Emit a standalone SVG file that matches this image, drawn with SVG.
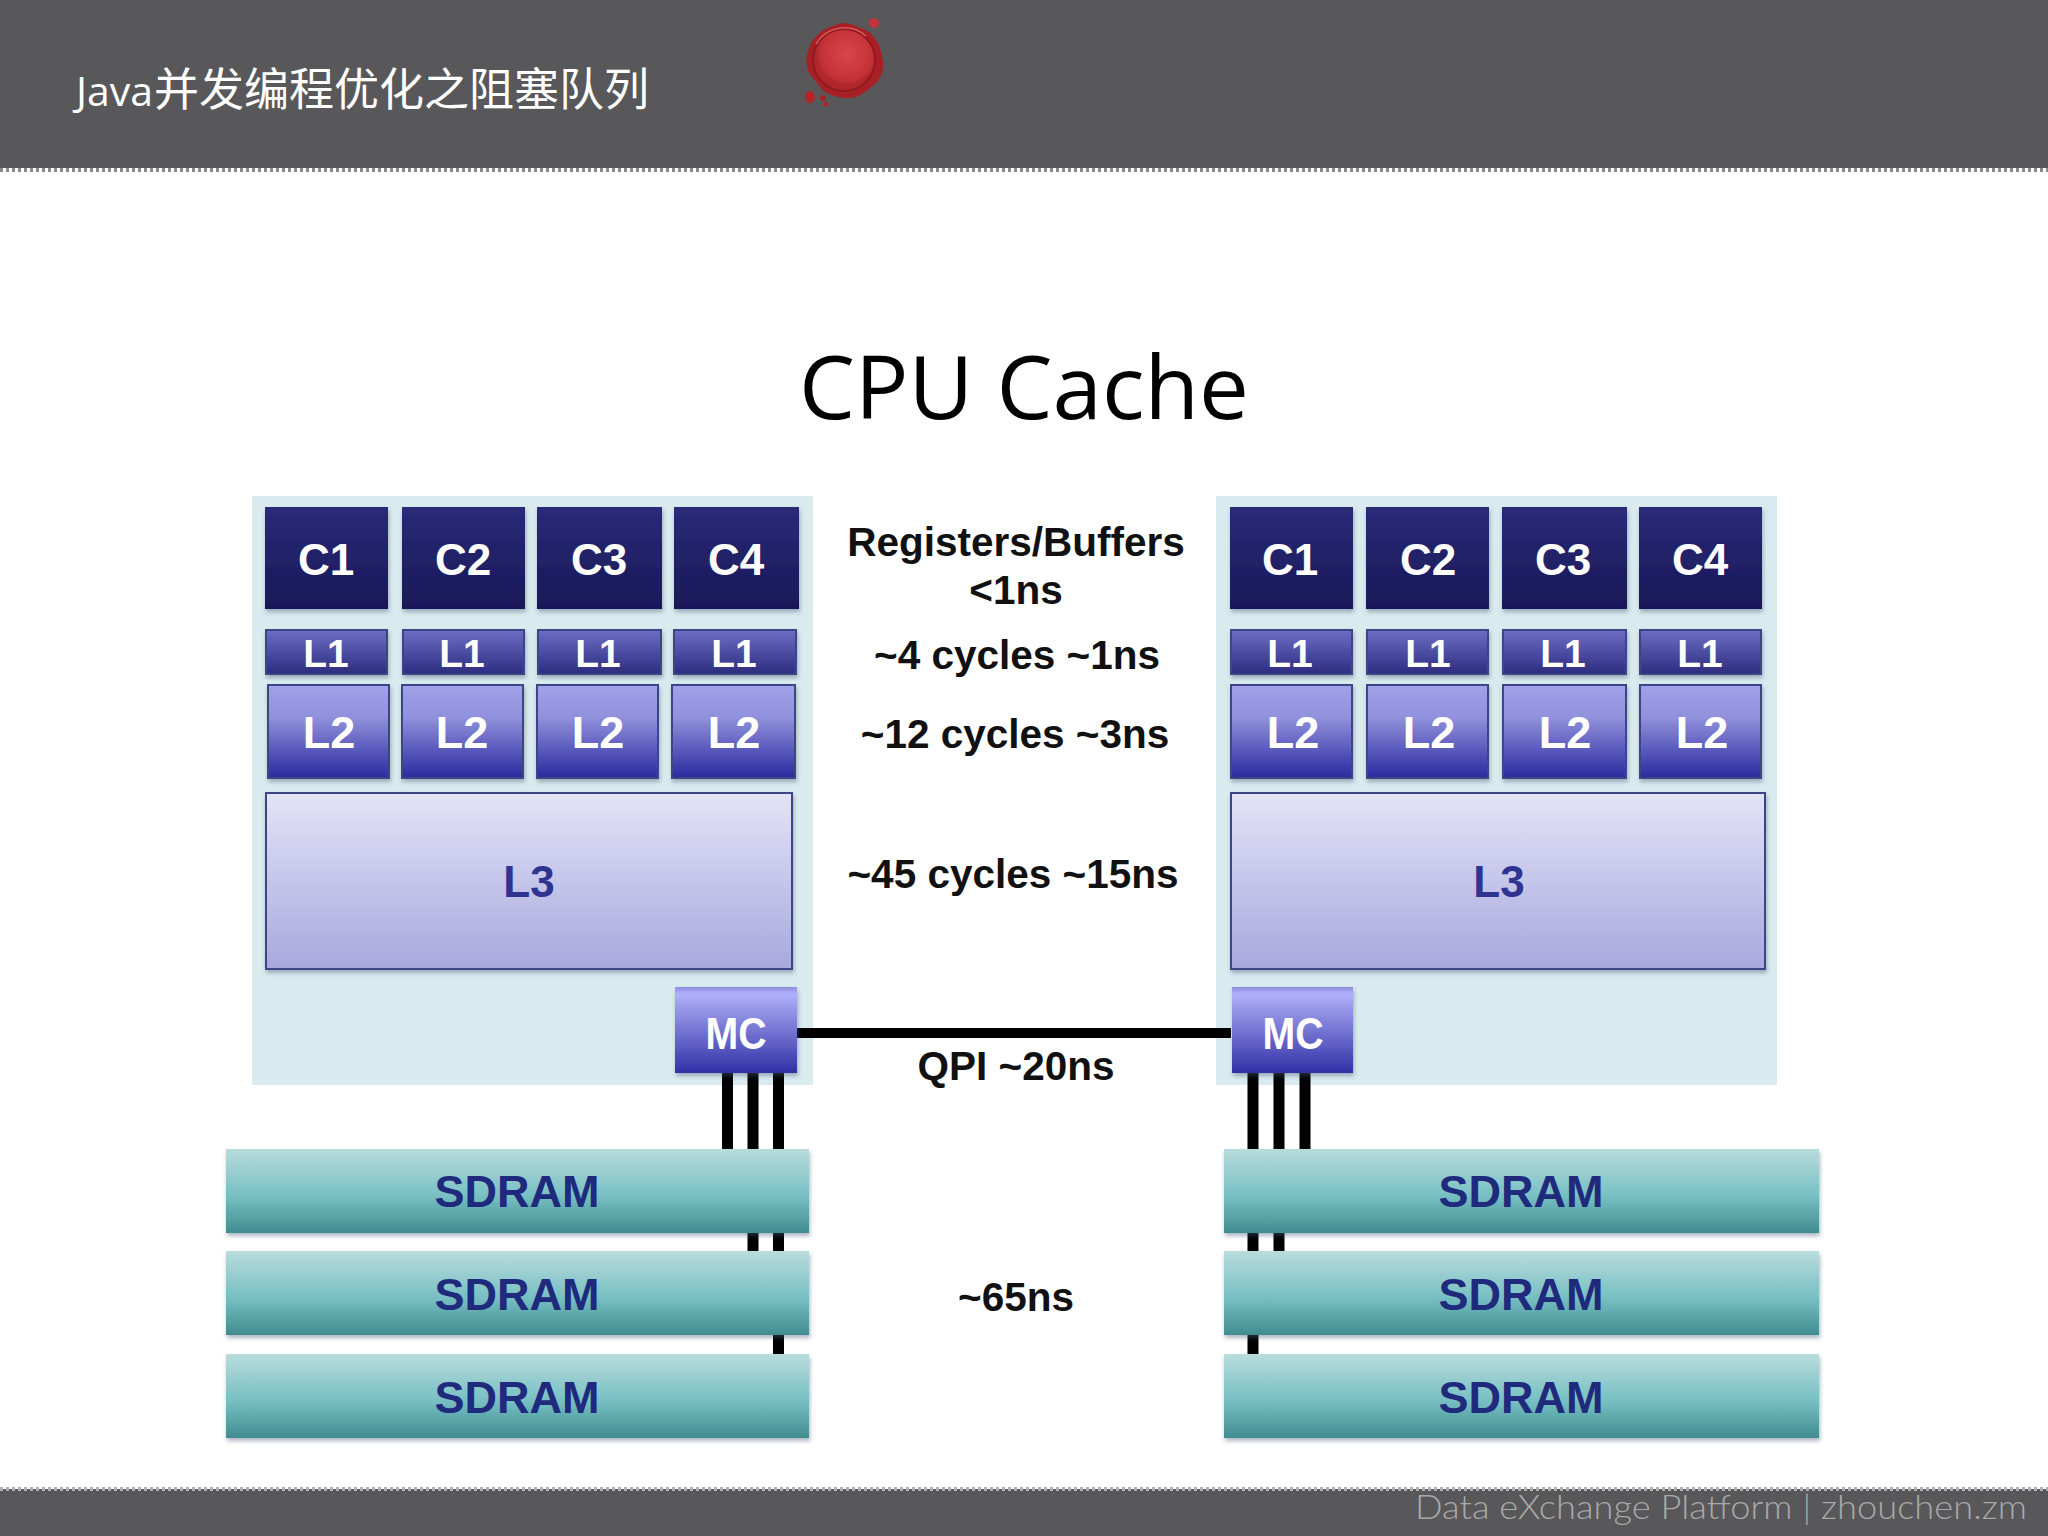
<svg xmlns="http://www.w3.org/2000/svg" width="2048" height="1536" viewBox="0 0 2048 1536">
<style>
text{font-family:"Liberation Sans",Arial,sans-serif;font-weight:700;text-anchor:middle}
.w{fill:#fff}.c{font-size:44px}.l1{font-size:39px}.l2{font-size:45px}.mc{font-size:45px}
.l3{font-size:44px;fill:#2e3490}.sd{font-size:45px;fill:#1f2a7c}.m{font-size:40.500px;fill:#111}
.bar{fill:#58585a}.panel{fill:#d9ebef}.b{stroke:#3c4585;stroke-width:2;filter:url(#sh)}.n{filter:url(#sh)}
.cn{stroke:#000;fill:none}
</style>
<defs>
<linearGradient id="gc" x1="0" y1="0" x2="0" y2="1"><stop offset="0" stop-color="#2a2a78"/><stop offset="1" stop-color="#191858"/></linearGradient>
<linearGradient id="g1" x1="0" y1="0" x2="0" y2="1"><stop offset="0" stop-color="#6e6ec4"/><stop offset="1" stop-color="#2c2c80"/></linearGradient>
<linearGradient id="g2" x1="0" y1="0" x2="0" y2="1"><stop offset="0" stop-color="#a2a2ea"/><stop offset=".35" stop-color="#9090dc"/><stop offset="1" stop-color="#2a2aa0"/></linearGradient>
<linearGradient id="g3" x1="0" y1="0" x2="0" y2="1"><stop offset="0" stop-color="#e3e3f7"/><stop offset="1" stop-color="#a8a8de"/></linearGradient>
<linearGradient id="gm" x1="0" y1="0" x2="0" y2="1"><stop offset="0" stop-color="#8c8ce0"/><stop offset=".08" stop-color="#b0b0fa"/><stop offset="1" stop-color="#3030a6"/></linearGradient>
<linearGradient id="gs" x1="0" y1="0" x2="0" y2="1"><stop offset="0" stop-color="#b9dcdc"/><stop offset=".55" stop-color="#78c0c4"/><stop offset="1" stop-color="#408c90"/></linearGradient>
<radialGradient id="gr" cx=".55" cy=".4"><stop offset="0" stop-color="#d8474c"/><stop offset=".85" stop-color="#c43238"/><stop offset="1" stop-color="#b0262c"/></radialGradient>
<filter id="sh" x="-10%" y="-10%" width="120%" height="125%"><feDropShadow dx="1" dy="3" stdDeviation="2" flood-color="#4a5a78" flood-opacity=".45"/></filter>
</defs>
<rect width="2048" height="1536" fill="#fff"/>
<g id="header">
<rect class="bar" width="2048" height="168"/>
<path d="M0 170H2048" stroke="#8a8a8a" stroke-width="4" stroke-dasharray="3 3"/>
<text x="76" y="106" style="text-anchor:start;font-family:'Open Sans',sans-serif;font-weight:400;font-size:40px" fill="#fff" textLength="77" lengthAdjust="spacingAndGlyphs">Java</text>
<text x="154" y="106" style="text-anchor:start;font-family:'Noto Sans CJK SC',sans-serif;font-weight:400;font-size:45px" fill="#fff">并发编程优化之阻塞队列</text>
</g>
<g id="seal">
<path d="M844 23C852 23 857 27 863 29C870 31 874 37 878 43C881 48 881 54 883 60C884 67 882 73 880 78C877 84 872 86 868 90C862 94 857 98 849 98C842 99 835 96 829 94C822 92 820 86 816 82C812 77 807 72 807 65C805 58 808 52 810 46C812 39 817 36 822 31C829 27 836 24 844 23Z" fill="#a91f26"/>
<circle cx="844" cy="60" r="31" fill="url(#gr)" stroke="#8f1a20" stroke-width="2"/>
<path d="M816 44A33 33 0 0 1 866 36" fill="none" stroke="#d9585c" stroke-width="1.500"/>
<circle cx="874" cy="23" r="5" fill="#c4323a"/>
<ellipse cx="810" cy="97" rx="5" ry="6" fill="#b3242a"/>
<circle cx="823" cy="98" r="3" fill="#a91f26"/>
<circle cx="826" cy="104" r="2.500" fill="#b3242a"/>
</g>
<text id="title" x="1024" y="419" style="font-family:'Open Sans',sans-serif;font-weight:400;font-size:88px" fill="#000" textLength="450" lengthAdjust="spacingAndGlyphs">CPU Cache</text>
<g id="panels">
<rect class="panel" x="252" y="496" width="561" height="589"/>
<rect class="panel" x="1216" y="496" width="561" height="589"/>
</g>
<g id="connectors" class="cn">
<path stroke-width="10" d="M797 1033H1231"/>
<path stroke-width="11" d="M727.500 1073V1149M753 1073V1251M778.500 1073V1354M1253 1073V1354M1279 1073V1251M1305 1073V1149"/>
</g>
<g id="cpu-left">
<g id="l-c1"><rect class="n" fill="url(#gc)" x="265" y="507" width="123" height="102"/><text class="w c" x="326" y="575">C1</text></g>
<g id="l-c2"><rect class="n" fill="url(#gc)" x="402" y="507" width="123" height="102"/><text class="w c" x="463" y="575">C2</text></g>
<g id="l-c3"><rect class="n" fill="url(#gc)" x="537" y="507" width="125" height="102"/><text class="w c" x="599" y="575">C3</text></g>
<g id="l-c4"><rect class="n" fill="url(#gc)" x="674" y="507" width="125" height="102"/><text class="w c" x="736" y="575">C4</text></g>
<g id="l-l1a"><rect class="b" fill="url(#g1)" x="266" y="630" width="121" height="44"/><text class="w l1" x="326" y="667">L1</text></g>
<g id="l-l1b"><rect class="b" fill="url(#g1)" x="403" y="630" width="121" height="44"/><text class="w l1" x="462" y="667">L1</text></g>
<g id="l-l1c"><rect class="b" fill="url(#g1)" x="538" y="630" width="123" height="44"/><text class="w l1" x="598" y="667">L1</text></g>
<g id="l-l1d"><rect class="b" fill="url(#g1)" x="674" y="630" width="122" height="44"/><text class="w l1" x="734" y="667">L1</text></g>
<g id="l-l2a"><rect class="b" fill="url(#g2)" x="268" y="685" width="121" height="93"/><text class="w l2" x="329" y="748">L2</text></g>
<g id="l-l2b"><rect class="b" fill="url(#g2)" x="402" y="685" width="121" height="93"/><text class="w l2" x="462" y="748">L2</text></g>
<g id="l-l2c"><rect class="b" fill="url(#g2)" x="537" y="685" width="121" height="93"/><text class="w l2" x="598" y="748">L2</text></g>
<g id="l-l2d"><rect class="b" fill="url(#g2)" x="672" y="685" width="123" height="93"/><text class="w l2" x="734" y="748">L2</text></g>
<g id="l-l3"><rect class="b" fill="url(#g3)" x="266" y="793" width="526" height="176"/><text class="l3" x="529" y="897">L3</text></g>
<g id="l-mc"><rect class="n" fill="url(#gm)" x="675" y="987" width="122" height="86"/><text class="w mc" x="736" y="1049" textLength="61" lengthAdjust="spacingAndGlyphs">MC</text></g>
</g>
<g id="cpu-right">
<g id="r-c1"><rect class="n" fill="url(#gc)" x="1230" y="507" width="123" height="102"/><text class="w c" x="1290" y="575">C1</text></g>
<g id="r-c2"><rect class="n" fill="url(#gc)" x="1366" y="507" width="123" height="102"/><text class="w c" x="1428" y="575">C2</text></g>
<g id="r-c3"><rect class="n" fill="url(#gc)" x="1502" y="507" width="125" height="102"/><text class="w c" x="1563" y="575">C3</text></g>
<g id="r-c4"><rect class="n" fill="url(#gc)" x="1639" y="507" width="123" height="102"/><text class="w c" x="1700" y="575">C4</text></g>
<g id="r-l1a"><rect class="b" fill="url(#g1)" x="1231" y="630" width="121" height="44"/><text class="w l1" x="1290" y="667">L1</text></g>
<g id="r-l1b"><rect class="b" fill="url(#g1)" x="1367" y="630" width="121" height="44"/><text class="w l1" x="1428" y="667">L1</text></g>
<g id="r-l1c"><rect class="b" fill="url(#g1)" x="1503" y="630" width="123" height="44"/><text class="w l1" x="1563" y="667">L1</text></g>
<g id="r-l1d"><rect class="b" fill="url(#g1)" x="1640" y="630" width="121" height="44"/><text class="w l1" x="1700" y="667">L1</text></g>
<g id="r-l2a"><rect class="b" fill="url(#g2)" x="1231" y="685" width="121" height="93"/><text class="w l2" x="1293" y="748">L2</text></g>
<g id="r-l2b"><rect class="b" fill="url(#g2)" x="1367" y="685" width="121" height="93"/><text class="w l2" x="1429" y="748">L2</text></g>
<g id="r-l2c"><rect class="b" fill="url(#g2)" x="1503" y="685" width="123" height="93"/><text class="w l2" x="1565" y="748">L2</text></g>
<g id="r-l2d"><rect class="b" fill="url(#g2)" x="1640" y="685" width="121" height="93"/><text class="w l2" x="1702" y="748">L2</text></g>
<g id="r-l3"><rect class="b" fill="url(#g3)" x="1231" y="793" width="534" height="176"/><text class="l3" x="1499" y="897">L3</text></g>
<g id="r-mc"><rect class="n" fill="url(#gm)" x="1232" y="987" width="121" height="86"/><text class="w mc" x="1293" y="1049" textLength="61" lengthAdjust="spacingAndGlyphs">MC</text></g>
</g>
<g id="sdram-left">
<g id="l-sd1"><rect class="n" fill="url(#gs)" x="226" y="1149" width="583" height="84"/><text class="sd" x="517" y="1207">SDRAM</text></g>
<g id="l-sd2"><rect class="n" fill="url(#gs)" x="226" y="1251" width="583" height="84"/><text class="sd" x="517" y="1310">SDRAM</text></g>
<g id="l-sd3"><rect class="n" fill="url(#gs)" x="226" y="1354" width="583" height="84"/><text class="sd" x="517" y="1413">SDRAM</text></g>
</g>
<g id="sdram-right">
<g id="r-sd1"><rect class="n" fill="url(#gs)" x="1224" y="1149" width="595" height="84"/><text class="sd" x="1521" y="1207">SDRAM</text></g>
<g id="r-sd2"><rect class="n" fill="url(#gs)" x="1224" y="1251" width="595" height="84"/><text class="sd" x="1521" y="1310">SDRAM</text></g>
<g id="r-sd3"><rect class="n" fill="url(#gs)" x="1224" y="1354" width="595" height="84"/><text class="sd" x="1521" y="1413">SDRAM</text></g>
</g>
<g id="latencies">
<text class="m" x="1016" y="556">Registers/Buffers</text>
<text class="m" x="1016" y="604">&lt;1ns</text>
<text class="m" x="1017" y="669">~4 cycles ~1ns</text>
<text class="m" x="1015" y="748">~12 cycles ~3ns</text>
<text class="m" x="1013" y="888">~45 cycles ~15ns</text>
<text class="m" x="1016" y="1080">QPI ~20ns</text>
<text class="m" x="1016" y="1311">~65ns</text>
</g>
<g id="footer">
<rect class="bar" y="1489" width="2048" height="47"/>
<path d="M0 1489H2048" stroke="#b0b0b0" stroke-width="4" stroke-dasharray="3 3"/>
<text x="1415" y="1519" style="text-anchor:start;font-family:Lato,'Open Sans',sans-serif;font-weight:300;font-size:34px" fill="#a9a9a9" textLength="612" lengthAdjust="spacingAndGlyphs">Data eXchange Platform | zhouchen.zm</text>
</g>
</svg>
